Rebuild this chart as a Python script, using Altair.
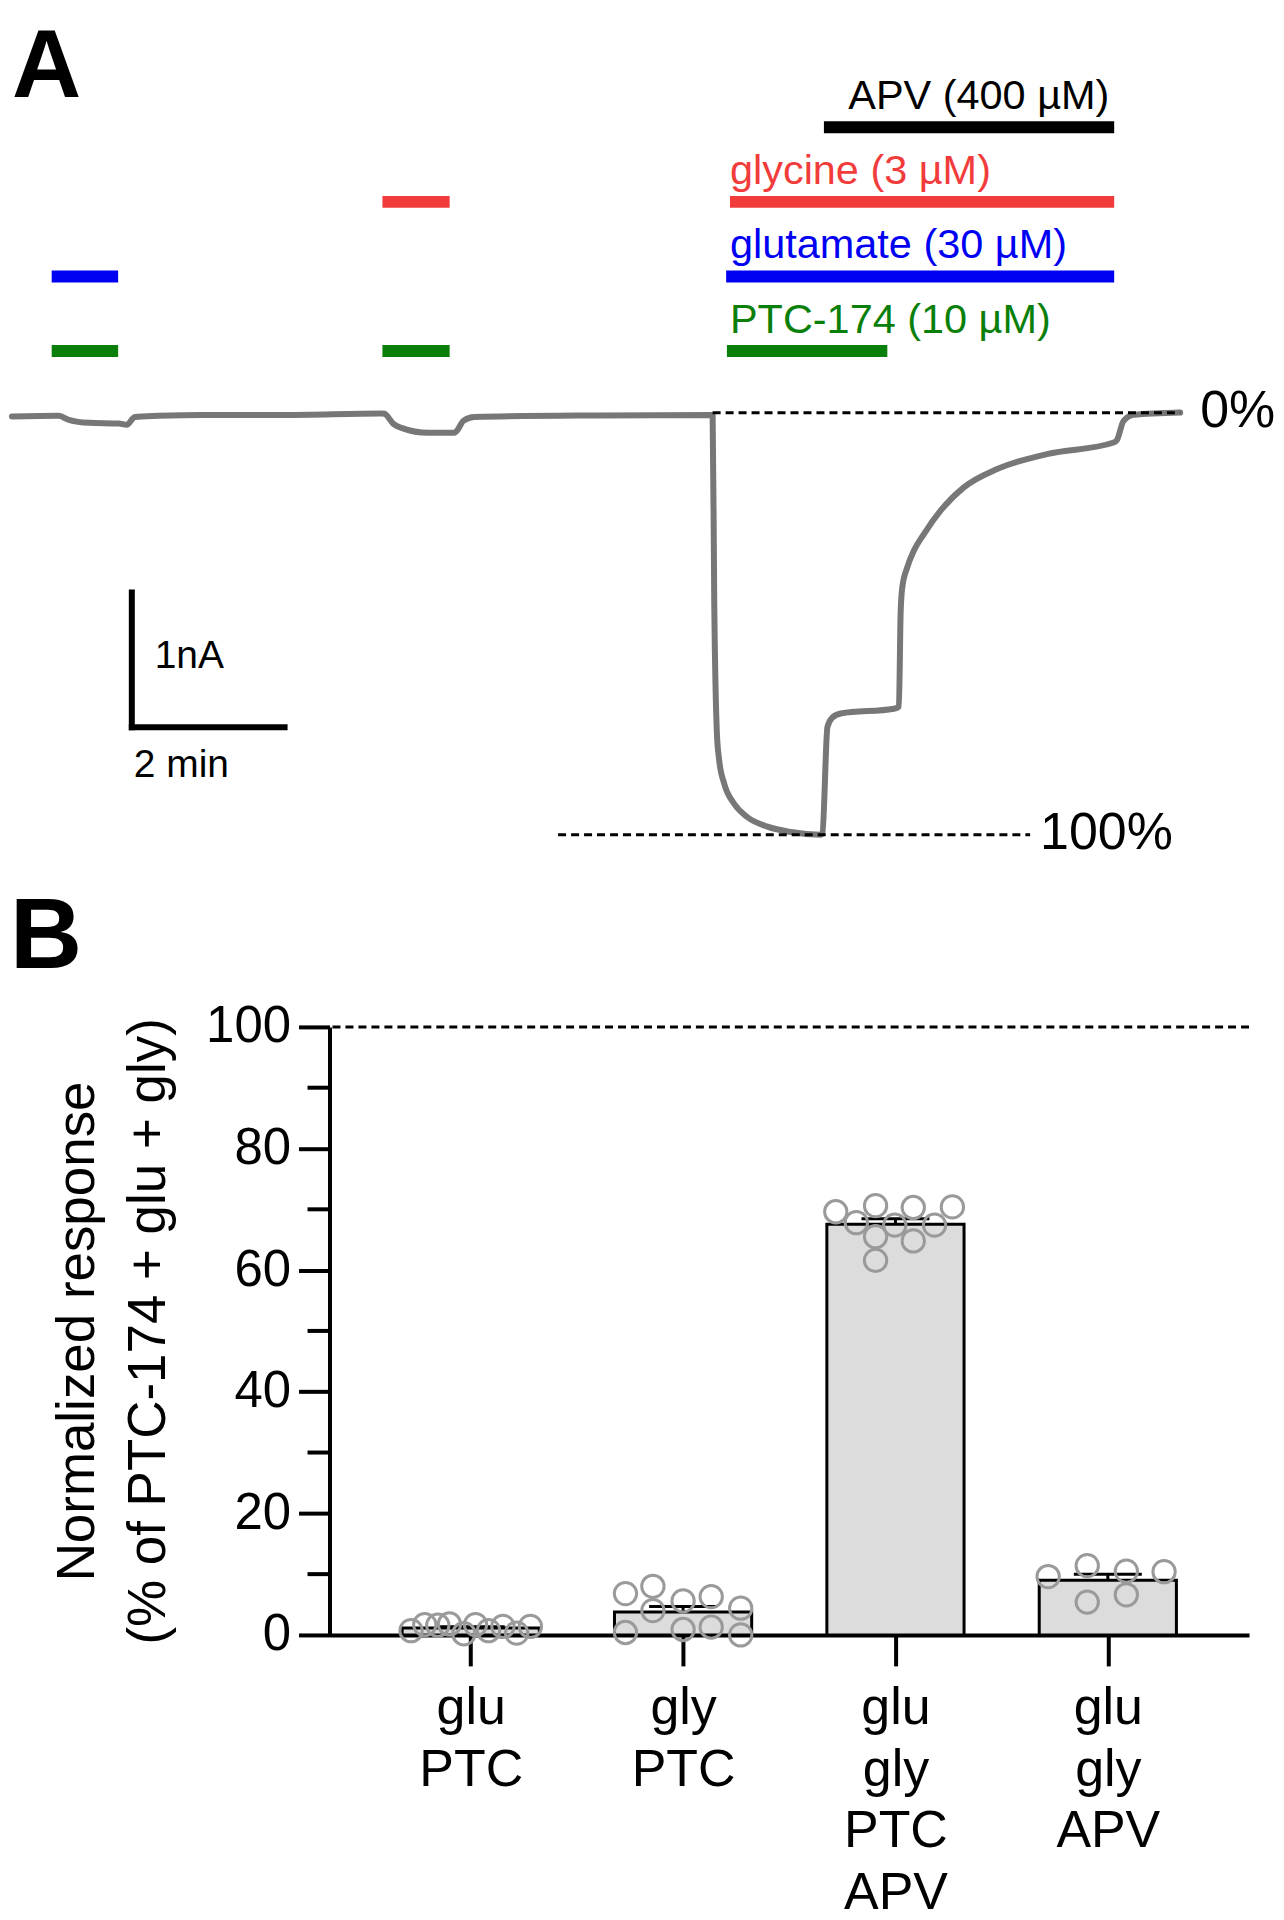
import json
import altair as alt
import pandas as pd

FONT = "Liberation Sans"

# ---------------- Panel A data ----------------
# whole-cell current trace: time (min) and current (nA)
trace_t = [0.0, 0.614, 0.745, 1.007, 1.399, 1.503, 1.608, 1.922, 2.484, 3.569,
           4.837, 4.876, 4.993, 5.098, 5.451, 5.791, 5.843, 5.908, 6.052, 7.712,
           9.173, 9.194, 9.229, 9.259, 9.324, 9.455, 9.630, 9.891, 10.196, 10.588,
           10.610, 10.676, 10.741, 10.850, 11.546, 11.612, 11.634, 11.656, 11.721, 11.808,
           11.939, 12.157, 12.462, 12.898, 13.551, 14.423, 14.466, 14.553, 14.684, 15.294]
trace_i = [-0.027, -0.022, -0.052, -0.074, -0.079, -0.089, -0.030, -0.022, -0.015, -0.015,
           -0.005, -0.007, -0.081, -0.111, -0.148, -0.148, -0.119, -0.059, -0.030, -0.019,
           -0.015, -1.393, -2.378, -2.578, -2.750, -2.900, -3.000, -3.070, -3.110, -3.130,
           -3.120, -2.330, -2.260, -2.230, -2.195, -2.178, -1.490, -1.294, -1.146, -1.022,
           -0.899, -0.726, -0.553, -0.417, -0.306, -0.220, -0.202, -0.059, -0.015, 0.002]

# drug applications (min)
app_drug = ["APV", "glycine", "glutamate", "PTC-174", "glycine", "glutamate", "PTC-174", "PTC-174"]
app_start = [10.63, 9.40, 9.35, 9.36, 4.85, 0.52, 0.52, 4.85]
app_end = [14.43, 14.43, 14.43, 11.46, 5.73, 1.39, 1.39, 5.73]

lab_drug = ["APV", "glycine", "glutamate", "PTC-174"]
lab_text = ["APV (400 µM)", "glycine (3 µM)", "glutamate (30 µM)", "PTC-174 (10 µM)"]
lab_t = [10.95, 9.40, 9.40, 9.40]
drug_colors = ["#000000", "#F23C3C", "#0000F2", "#0A800A"]

# reference levels (0% and 100%)
ref_label = ["0%", "100%"]
ref_level = [0.0, -3.13]
ref_start = [9.173, 7.15]
ref_end = [15.294, 13.33]
ref_text_t = [15.556, 13.46]

# scale bar: 2 min x 1 nA
sb_t0, sb_i0 = 1.569, -2.333
sb_dt, sb_di = 2.0, 1.0
sb_label = ["1nA", "2 min"]
sb_label_t = [1.869, 1.595]
sb_label_i = [-1.896, -2.704]

# ---------------- Panel B data ----------------
cats = ["glu PTC", "gly PTC", "glu gly PTC APV", "glu gly APV"]
pt_cond = (["glu PTC"] * 10 + ["gly PTC"] * 10 + ["glu gly PTC APV"] * 10 + ["glu gly APV"] * 6)
pt_value = [0.7, 1.7, 1.6, 1.8, 0.2, 1.7, 0.7, 1.4, 0.3, 1.4,
            6.8, 8.0, 4.0, 5.6, 6.3, 4.4, 0.4, 0.9, 1.3, 0.0,
            69.6, 70.6, 70.3, 70.4, 67.8, 67.4, 67.4, 65.5, 64.8, 61.6,
            9.6, 11.4, 10.5, 10.4, 5.4, 6.6]
pt_jit = [-0.87, -0.67, -0.48, -0.31, -0.10, 0.07, 0.26, 0.47, 0.67, 0.87,
          -0.84, -0.44, -0.44, 0.0, 0.41, 0.84, -0.84, 0.0, 0.41, 0.84,
          -0.87, -0.29, 0.26, 0.83, -0.57, -0.01, 0.57, -0.29, 0.26, -0.29,
          -0.87, -0.30, 0.27, 0.82, -0.30, 0.27]
y_ticks = [0, 20, 40, 60, 80, 100]
y_minor = [10, 30, 50, 70, 90]

# ---------------- Panel A ----------------
WA, HA = 940, 872
xA = alt.Scale(domain=[4.157, 16.444])
yA = alt.Scale(domain=[-3.4667, 2.9926])

trace_df = pd.DataFrame({"t": trace_t, "i": trace_i})
trace = alt.Chart(trace_df).mark_line(
    color="#777777", strokeWidth=6, interpolate="monotone", strokeJoin="round", strokeCap="round"
).encode(x=alt.X("t:Q", scale=xA, axis=None), y=alt.Y("i:Q", scale=yA, axis=None))

ref_df = pd.DataFrame({"label": ref_label, "level": ref_level, "s": ref_start,
                       "e": ref_end, "tt": ref_text_t})
ref_rules = alt.Chart(ref_df).mark_rule(color="black", strokeWidth=3, strokeDash=[8, 5]).encode(
    x=alt.X("s:Q", scale=xA, axis=None), x2="e:Q", y=alt.Y("level:Q", scale=yA, axis=None))
ref_text = alt.Chart(ref_df).mark_text(
    align="left", baseline="middle", fontSize=52, font=FONT, color="black", dy=-2
).encode(x=alt.X("tt:Q", scale=xA, axis=None), y=alt.Y("level:Q", scale=yA, axis=None), text="label:N")

sb_df = pd.DataFrame({
    "x": [sb_t0, sb_t0], "x2": [sb_t0, sb_t0 + sb_dt],
    "y": [sb_i0, sb_i0], "y2": [sb_i0 + sb_di, sb_i0],
})
sb_rules = alt.Chart(sb_df).mark_rule(color="black", strokeWidth=6, strokeCap="square").encode(
    x=alt.X("x:Q", scale=xA, axis=None), x2="x2:Q",
    y=alt.Y("y:Q", scale=yA, axis=None), y2="y2:Q")
sb_text_df = pd.DataFrame({"label": sb_label, "t": sb_label_t, "i": sb_label_i})
sb_text = alt.Chart(sb_text_df).mark_text(
    align="left", baseline="alphabetic", fontSize=39, font=FONT, color="black"
).encode(x=alt.X("t:Q", scale=xA, axis=None), y=alt.Y("i:Q", scale=yA, axis=None), text="label:N")

a_label = alt.Chart(pd.DataFrame({"p": ["A"]})).mark_text(
    text="A", fontSize=96, fontWeight="bold", font=FONT, align="left", baseline="top", color="black"
).encode(x=alt.value(-318), y=alt.value(12))

row_scale = alt.Scale(type="point", domain=lab_drug, range=[118, 342], padding=0)
col_scale = alt.Scale(domain=lab_drug, range=drug_colors)
app_df = pd.DataFrame({"drug": app_drug, "s": app_start, "e": app_end})
app_rules = alt.Chart(app_df).mark_rule(strokeWidth=12).encode(
    x=alt.X("s:Q", scale=xA, axis=None), x2="e:Q",
    y=alt.Y("drug:N", scale=row_scale, axis=None),
    color=alt.Color("drug:N", scale=col_scale, legend=None))
lab_df = pd.DataFrame({"drug": lab_drug, "label": lab_text, "t": lab_t})
app_text = alt.Chart(lab_df).mark_text(
    align="left", baseline="alphabetic", fontSize=41.5, font=FONT, dy=-18
).encode(
    x=alt.X("t:Q", scale=xA, axis=None),
    y=alt.Y("drug:N", scale=row_scale, axis=None),
    text="label:N",
    color=alt.Color("drug:N", scale=col_scale, legend=None))

panel_a = alt.layer(
    alt.layer(trace, ref_rules, ref_text, sb_rules, sb_text, a_label),
    alt.layer(app_rules, app_text),
).resolve_scale(y="independent").properties(width=WA, height=HA)

# ---------------- Panel B ----------------
WB, HB = 921, 609
HALF_BAR = 0.323   # half bar width, in category steps
HALF_CAP = 0.16    # half error-cap width, in category steps
pts_df = pd.DataFrame({"idx": [cats.index(c) for c in pt_cond], "value": pt_value, "jit": pt_jit})

label_expr = "split(" + json.dumps(cats) + "[datum.value], ' ')"
x_axis = alt.Axis(
    title=None, values=[0, 1, 2, 3], labelExpr=label_expr, labelAngle=0,
    labelFlush=False, labelOverlap=False, labelBound=False,
    labelFont=FONT, labelFontSize=52, labelLineHeight=61.5, labelColor="black",
    labelPadding=17, tickSize=31, tickWidth=4, tickColor="black",
    domainWidth=4, domainColor="black", grid=False)
y_axis = alt.Axis(
    values=y_ticks, tickSize=31, tickWidth=4, tickColor="black",
    domainWidth=4, domainColor="black", grid=False, labelFlush=False,
    labelFont=FONT, labelFontSize=51, labelPadding=8, labelColor="black",
    title=["Normalized response", "(% of PTC-174 + glu + gly)"],
    titleFont=FONT, titleFontSize=53, titleFontWeight="normal", titleColor="black",
    titleLineHeight=71, titlePadding=30)
xB_scale = alt.Scale(domain=[-0.665, 3.665])
yB_scale = alt.Scale(domain=[0, 100])

def xB(field):
    return alt.X(field, scale=xB_scale, axis=x_axis)

def yB(field):
    return alt.Y(field, scale=yB_scale, axis=y_axis)

base = alt.Chart(pts_df)
agg = base.transform_aggregate(
    m="mean(value)", s="stderr(value)", groupby=["idx"]
).transform_calculate(
    up="datum.m + datum.s",
    lo_x=f"datum.idx - {HALF_BAR}", hi_x=f"datum.idx + {HALF_BAR}",
    cl_x=f"datum.idx - {HALF_CAP}", cr_x=f"datum.idx + {HALF_CAP}",
)
bars = agg.mark_bar(fill="#DCDCDC", stroke="black", strokeWidth=3).encode(
    x=xB("lo_x:Q"), x2="hi_x:Q", y=yB("m:Q"), y2=alt.datum(0))
err_rule = agg.mark_rule(color="black", strokeWidth=3).encode(
    x=xB("idx:Q"), y=yB("m:Q"), y2="up:Q")
err_cap = agg.mark_rule(color="black", strokeWidth=3).encode(
    x=xB("cl_x:Q"), x2="cr_x:Q", y=yB("up:Q"))
points = base.transform_calculate(px=f"datum.idx + datum.jit * {HALF_BAR}").mark_point(
    shape="circle", filled=False, size=500, stroke="#9A9A9A", strokeWidth=3, opacity=1
).encode(x=xB("px:Q"), y=yB("value:Q"))

top_df = pd.DataFrame({"level": [100]})
top_rule = alt.Chart(top_df).mark_rule(color="black", strokeWidth=3, strokeDash=[8, 5]).encode(
    y=yB("level:Q"))
minor_df = pd.DataFrame({"minor": y_minor})
minor_ticks = alt.Chart(minor_df).mark_rule(color="black", strokeWidth=4).encode(
    y=yB("minor:Q"), x=alt.value(-22), x2=alt.value(0))
b_label = alt.Chart(pd.DataFrame({"p": ["B"]})).mark_text(
    text="B", fontSize=100, fontWeight="bold", font=FONT, align="left", baseline="top", color="black"
).encode(x=alt.value(-320), y=alt.value(-138))

panel_b = alt.layer(top_rule, bars, err_rule, err_cap, points, minor_ticks, b_label).properties(
    width=WB, height=HB)

chart = alt.vconcat(panel_a, panel_b, spacing=8).properties(
    padding=0, background="white"
).configure_view(strokeWidth=0)

chart.save("out.html", embed_options={"renderer": "svg", "actions": False})
